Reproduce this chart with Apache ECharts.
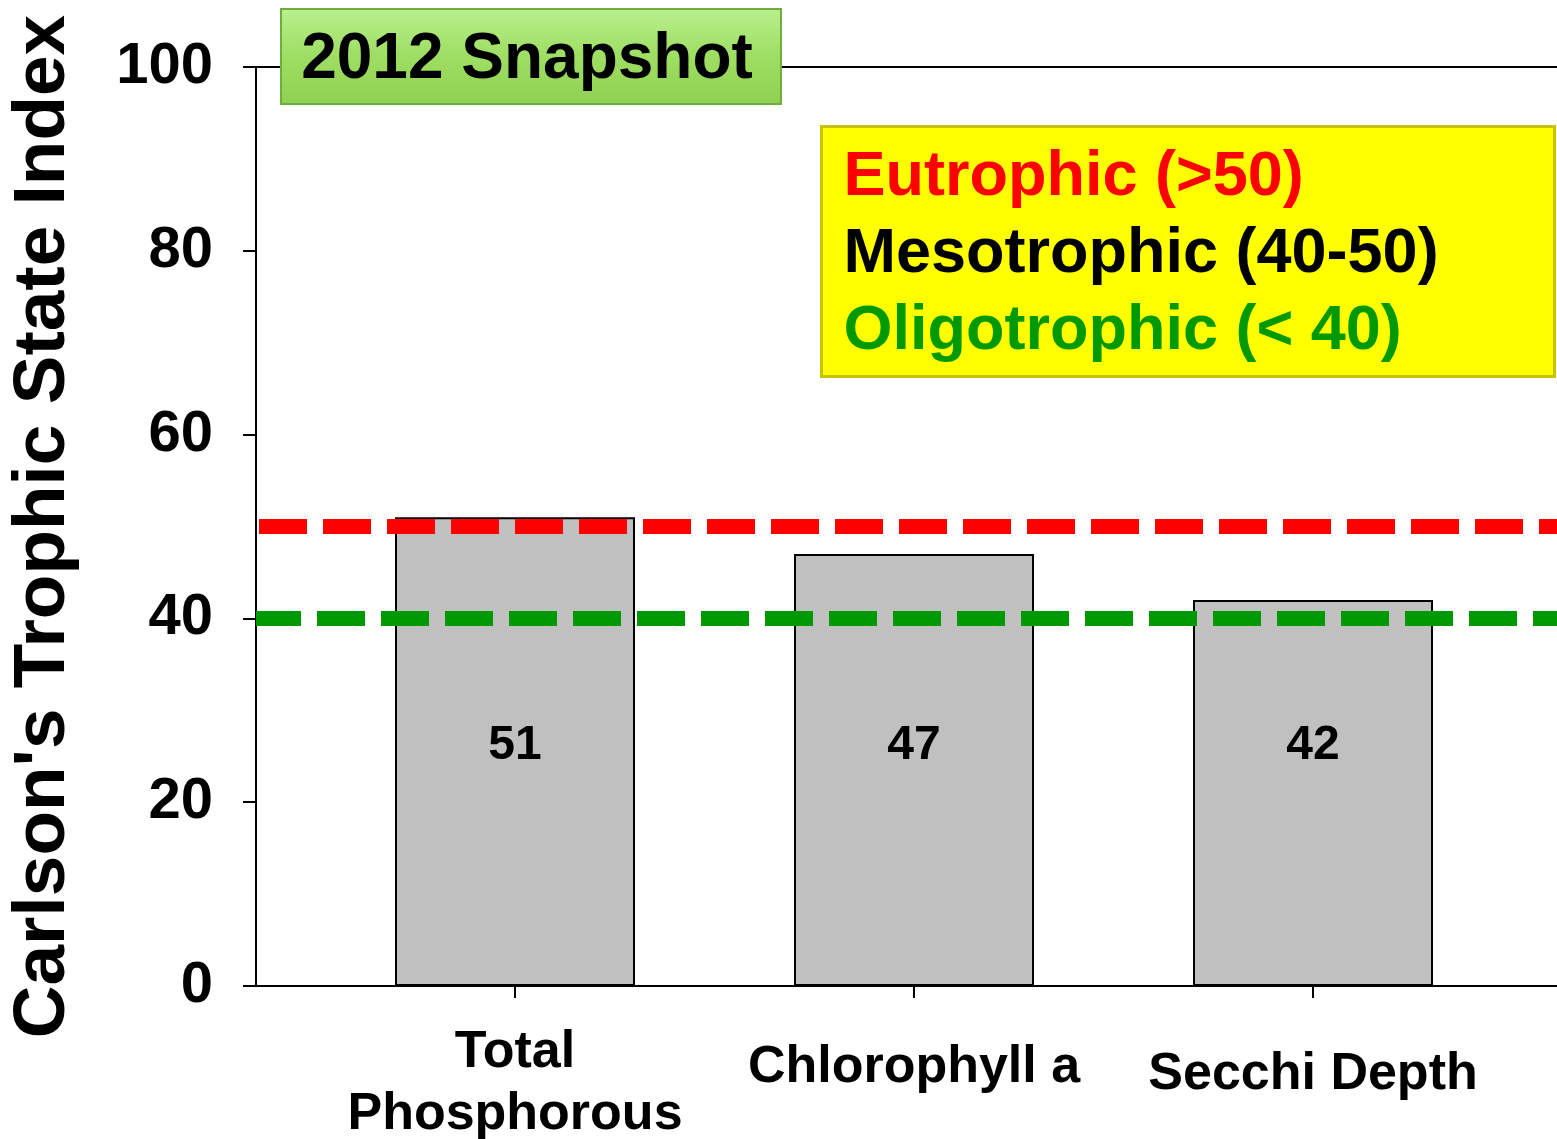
<!DOCTYPE html>
<html>
<head>
<meta charset="utf-8">
<title>2012 Snapshot - Carlson's Trophic State Index</title>
<script src="https://cdn.jsdelivr.net/npm/echarts@6/dist/echarts.min.js"></script>
<style>
    html, body { margin: 0; padding: 0; background: #fff; }
    #chart { width: 1557px; height: 1139px; }
</style>
</head>
<body>
<div id="chart"></div>
<script>
// 数据
const categories = ['Total\nPhosphorous', 'Chlorophyll a', 'Secchi Depth'];
const tsiValues = [51, 47, 42];
const yTicks = [0, 20, 40, 60, 80, 100];
const thresholdValues = [50, 40];
const thresholdColors = ['#FF0000', '#009900'];
const legendLines = ['Eutrophic (>50)', 'Mesotrophic (40-50)', 'Oligotrophic (< 40)'];
const legendColors = ['#FF0000', '#000000', '#009900'];
const titleText = '2012 Snapshot';

const FONT = 'Liberation Sans, Arial, sans-serif';
const labelPadTop = [0, 15, 22]; // 单行标签在Excel里是垂直居中的

const chart = echarts.init(document.getElementById('chart'));

// 阈值虚线（在整个绘图区宽度上）
const dashOffsets = [61, 3];
const thresholdSeries = thresholdValues.map((v, i) => ({
    type: 'line',
    xAxisIndex: 0,
    yAxisIndex: 0,
    data: [[0, v], [1, v]],
    symbol: 'none',
    silent: true,
    z: 5,
    lineStyle: { color: thresholdColors[i], width: 15, type: [48, 16], dashOffset: dashOffsets[i], cap: 'butt' }
}));

const option = {
    animation: false,
    backgroundColor: '#ffffff',
    grid: [
        { left: 256, right: 0, top: 67, bottom: 153, outerBoundsMode: 'none' },
        { left: 315.5, width: 1197, top: 67, bottom: 153, outerBoundsMode: 'none' }
    ],
    xAxis: [
        {
            type: 'value', gridIndex: 0, position: 'bottom', min: 0, max: 1,
            axisLine: { show: true, lineStyle: { color: '#000', width: 2 } },
            axisTick: { show: false }, axisLabel: { show: false }, splitLine: { show: false }
        },
        {
            type: 'value', gridIndex: 0, position: 'top', min: 0, max: 1,
            axisLine: { show: true, lineStyle: { color: '#000', width: 2 } },
            axisTick: { show: false }, axisLabel: { show: false }, splitLine: { show: false }
        },
        {
            type: 'category', gridIndex: 1, position: 'bottom',
            data: categories.map((c, i) => ({ value: c, textStyle: { padding: [labelPadTop[i], 0, 0, 0] } })),
            axisLine: { show: false },
            axisTick: { show: true, alignWithLabel: true, length: 12, lineStyle: { color: '#000', width: 2 } },
            axisLabel: {
                margin: 36, color: '#000', fontFamily: FONT, fontWeight: 'bold', fontSize: 52,
                lineHeight: 62, interval: 0
            },
            splitLine: { show: false }
        }
    ],
    yAxis: [
        {
            type: 'value', gridIndex: 0, min: yTicks[0], max: yTicks[yTicks.length - 1], interval: 20,
            name: "Carlson's Trophic State Index",
            nameLocation: 'middle',
            nameGap: 176,
            nameTextStyle: { color: '#000', fontFamily: FONT, fontWeight: 'bold', fontSize: 73 },
            axisLine: { show: true, lineStyle: { color: '#000', width: 2 } },
            axisTick: { show: true, inside: false, length: 13, lineStyle: { color: '#000', width: 2 } },
            axisLabel: { margin: 43, color: '#000', fontFamily: FONT, fontWeight: 'bold', fontSize: 58 },
            splitLine: { show: false }
        },
        {
            type: 'value', gridIndex: 1, min: 0, max: 100, show: false
        }
    ],
    series: [
        {
            type: 'bar',
            xAxisIndex: 2,
            yAxisIndex: 1,
            data: tsiValues,
            barWidth: 240,
            z: 2,
            itemStyle: { color: '#C0C0C0', borderColor: '#000', borderWidth: 2 },
            label: {
                show: true, position: 'insideBottom', distance: 216, color: '#000',
                fontFamily: FONT, fontWeight: 'bold', fontSize: 48
            }
        },
        ...thresholdSeries
    ],
    graphic: [
        // 标题框
        {
            type: 'group',
            left: 280, top: 8,
            z: 100,
            children: [
                {
                    type: 'rect',
                    z: 100,
                    shape: { x: 0, y: 0, width: 500, height: 95 },
                    style: {
                        fill: new echarts.graphic.LinearGradient(0, 0, 0, 1, [
                            { offset: 0, color: '#b9f08f' },
                            { offset: 0.5, color: '#9ede62' },
                            { offset: 1, color: '#8fd052' }
                        ]),
                        stroke: '#6fae3e', lineWidth: 2
                    }
                },
                {
                    type: 'text',
                    z: 101,
                    x: 246, y: 51,
                    style: {
                        text: titleText, fill: '#000', fontFamily: FONT, fontWeight: 'bold', fontSize: 64,
                        align: 'center', verticalAlign: 'middle'
                    }
                }
            ]
        },
        // 营养状态说明框
        {
            type: 'group',
            left: 820, top: 125,
            z: 100,
            children: [
                {
                    type: 'rect',
                    z: 100,
                    shape: { x: 0, y: 0, width: 733, height: 250 },
                    style: { fill: '#FFFF00', stroke: '#c9c200', lineWidth: 3 }
                },
                ...legendLines.map((t, i) => ({
                    type: 'text',
                    z: 101,
                    x: 22, y: 51 + i * 77,
                    style: {
                        text: t, fill: legendColors[i], fontFamily: FONT, fontWeight: 'bold', fontSize: 63,
                        align: 'left', verticalAlign: 'middle'
                    }
                }))
            ]
        }
    ]
};

chart.setOption(option);
window.addEventListener('resize', () => chart.resize());
</script>
</body>
</html>
